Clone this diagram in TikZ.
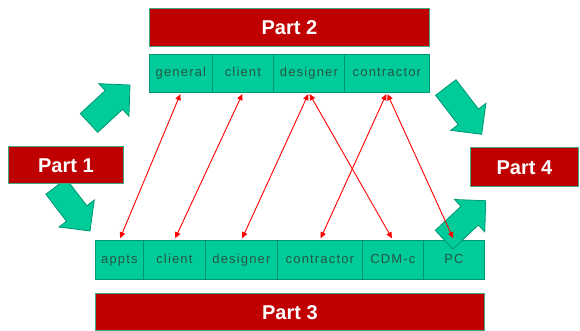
\documentclass[tikz,border=0pt]{standalone}
\usepackage{fontspec}
\setmainfont{Liberation Sans}
\newfontfamily\cellfont[LetterSpace=9]{Liberation Sans}
\usetikzlibrary{calc,arrows.meta}
\definecolor{gfill}{RGB}{0,204,153}
\definecolor{gline}{RGB}{0,150,115}
\definecolor{rfill}{RGB}{192,0,0}
\definecolor{rborder}{RGB}{60,170,130}
\definecolor{ctext}{RGB}{40,85,70}
\definecolor{rline}{RGB}{255,0,0}
\tikzset{
  cell/.style={draw=gline, line width=0.8pt, fill=gfill, inner sep=0pt, anchor=north west,
    text height=9.5pt, text depth=2.5pt,
    font=\cellfont\fontsize{13}{15}\selectfont, text=ctext},
  partbox/.style={draw=rborder, line width=0.8pt, fill=rfill, inner sep=0pt, anchor=north west,
    text height=14.5pt, text depth=0pt,
    font=\bfseries\fontsize{20}{23}\selectfont, text=white},
  garrow/.style={fill=gfill, draw=gline, line width=0.8pt, line join=miter},
  link/.style={draw=rline, line width=0.9pt, {Triangle[length=6pt,width=5.5pt]}-{Triangle[length=6pt,width=5.5pt]}, shorten <=1.5pt, shorten >=2pt}
}
\newcommand\gblockarrow[3]{%
  \coordinate (#1t) at #2; \coordinate (#1p) at #3;
  \coordinate (#1b) at ($(#1p)!22pt!(#1t)$);
  \draw[garrow] ($(#1t)!12.8pt!90:(#1p)$) -- ($(#1b)!12.8pt!90:(#1p)$) -- ($(#1b)!22.2pt!90:(#1p)$) -- (#1p)
    -- ($(#1b)!22.2pt!-90:(#1p)$) -- ($(#1b)!12.8pt!-90:(#1p)$) -- ($(#1t)!12.8pt!-90:(#1p)$) -- cycle;}
\begin{document}
\begin{tikzpicture}[x=1pt,y=-1pt]
\useasboundingbox (0,0) rectangle (580,331);
% top row
\node[cell, minimum width=63pt, minimum height=38pt] (tg) at (149,54) {general};
\node[cell, minimum width=61pt, minimum height=38pt] (tc) at (212,54) {client};
\node[cell, minimum width=71pt, minimum height=38pt] (td) at (273,54) {designer};
\node[cell, minimum width=85pt, minimum height=38pt] (tk) at (344,54) {contractor};
% bottom row
\node[cell, minimum width=48pt, minimum height=39pt] (ba) at (95,240) {appts};
\node[cell, minimum width=62pt, minimum height=39pt] (bc) at (143,240) {client};
\node[cell, minimum width=72pt, minimum height=39pt] (bd) at (205,240) {designer};
\node[cell, minimum width=85pt, minimum height=39pt] (bk) at (277,240) {contractor};
\node[cell, minimum width=61pt, minimum height=39pt] (bm) at (362,240) {CDM-c};
\node[cell, minimum width=61pt, minimum height=39pt] (bp) at (423,240) {PC};
% green block arrows
\gblockarrow{ga}{(89,123)}{(130,85)}
\gblockarrow{gb}{(56,186.5)}{(90,231)}
\gblockarrow{gc}{(445.8,87.5)}{(481.7,134.3)}
\gblockarrow{gd}{(444,239.7)}{(485.7,200.7)}
% part boxes
\node[partbox, minimum width=280pt, minimum height=38pt] (p2) at (149,8) {Part 2};
\node[partbox, minimum width=115pt, minimum height=37pt] (p1) at (8,146) {Part 1};
\node[partbox, minimum width=389pt, minimum height=37pt] (p3) at (95,293) {Part 3};
\node[partbox, minimum width=108pt, minimum height=39pt] (p4) at (470,147) {Part 4};
% red links
\draw[link] (tg.south) -- (ba.north);
\draw[link] (tc.south) -- (bc.north);
\draw[link] (td.south) -- (bd.north);
\draw[link] (td.south) -- (bm.north);
\draw[link] (tk.south) -- (bk.north);
\draw[link] (tk.south) -- (bp.north);
\end{tikzpicture}
\end{document}
